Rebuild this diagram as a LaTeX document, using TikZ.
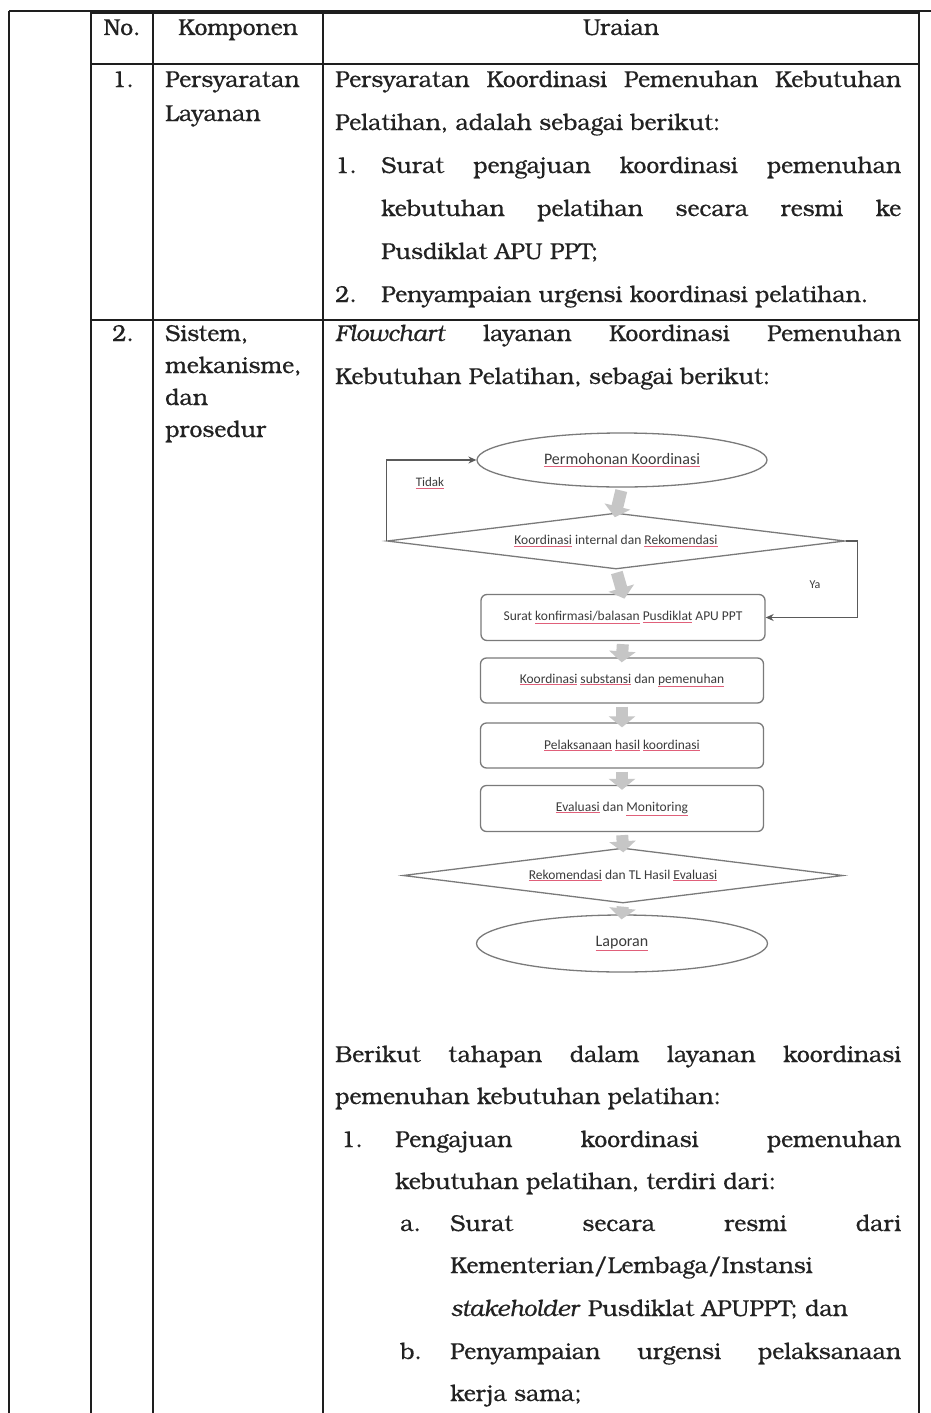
\documentclass[tikz,border=0pt]{standalone}
\usepackage{fontspec}
\setmainfont{TeX Gyre Bonum}[FakeBold=0.5]
\newfontfamily\fcfont{Carlito}
\usetikzlibrary{shapes.geometric,arrows.meta}

\definecolor{ink}{HTML}{222222}
\definecolor{rulecol}{HTML}{1E1E1E}
\definecolor{fcline}{HTML}{7A7A7A}
\definecolor{fcarrow}{HTML}{5A5A5A}
\definecolor{fctext}{HTML}{3C3C3C}
\definecolor{blk}{HTML}{C6C6C6}
\definecolor{spell}{HTML}{E0607A}

% word marked with a thin red underline
\newcommand\sq[1]{{\color{spell}\underline{{\color{fctext}#1}}}}
% justified line of a given width (in pt)
\newcommand\jl[2]{\makebox[#1pt][s]{#2}}

\tikzset{
  rule/.style={draw=rulecol, line width=2.2pt},
  txt/.style={anchor=base west, inner sep=0pt, text=ink,
              font=\fontsize{23}{27}\selectfont},
  hdr/.style={txt, anchor=base},
  fcshape/.style={draw=fcline, line width=1.3pt, fill=white, inner sep=0pt,
                  text=fctext, font=\fcfont\fontsize{13.5}{15}\selectfont},
  fcell/.style={fcshape, ellipse, font=\fcfont\fontsize{16}{18}\selectfont},
  fcbox/.style={fcshape, rectangle, rounded corners=6pt},
  fcdia/.style={fcshape, diamond, aspect=8},
  fclabel/.style={inner sep=0pt, text=fctext, font=\fcfont\fontsize{13}{15}\selectfont},
  flow/.style={draw=fcarrow, line width=1.2pt, -{Stealth[length=8pt,width=7pt]}},
  blockarr/.style={draw=blk, line width=12pt, -{Triangle[width=26pt,length=11pt]},
                   shorten <=3pt, shorten >=-5pt}
}

\begin{document}
\begin{tikzpicture}[x=1pt,y=-1pt]
\useasboundingbox (0,0) rectangle (931,1413);
\fill[white] (0,0) rectangle (931,1413);

% ---- table rules ----
\draw[rule, line width=1.6pt] (9,11) -- (931,11);
\draw[rule, line width=3.6pt] (91,12) -- (919,12);
\draw[rule] (9,11) -- (9,1413);
\draw[rule] (91,11) -- (91,1413);
\draw[rule] (153,11) -- (153,1413);
\draw[rule] (323,11) -- (323,1413);
\draw[rule] (919,11) -- (919,1413);
\draw[rule] (91,64) -- (919,64);
\draw[rule] (91,320) -- (919,320);

% ---- header ----
\node[hdr] (hno)   at (122,35) {No.};
\node[hdr] (hkomp) at (238,35) {Komponen};
\node[hdr] (hur)   at (621,35) {Uraian};

% ---- row 1 ----
\node[txt] (no1) at (112,87) {1.};
\node[txt] (k1a) at (165,87) {Persyaratan};
\node[txt] (k1b) at (165,121) {Layanan};

\node[txt] (u11) at (335,87)  {\jl{566}{Persyaratan Koordinasi Pemenuhan Kebutuhan}};
\node[txt] (u12) at (335,130) {Pelatihan, adalah sebagai berikut:};
\node[txt] (u13n) at (335,173) {1.};
\node[txt] (u13) at (381,173) {\jl{520}{Surat pengajuan koordinasi pemenuhan}};
\node[txt] (u14) at (381,216) {\jl{520}{kebutuhan pelatihan secara resmi ke}};
\node[txt] (u15) at (381,259) {Pusdiklat APU PPT;};
\node[txt] (u16n) at (335,302) {2.};
\node[txt] (u16) at (381,302) {Penyampaian urgensi koordinasi pelatihan.};

% ---- row 2 ----
\node[txt] (no2) at (112,341) {2.};
\node[txt] (k2a) at (165,341) {Sistem,};
\node[txt] (k2b) at (165,373) {mekanisme,};
\node[txt] (k2c) at (165,405) {dan};
\node[txt] (k2d) at (165,437) {prosedur};

\node[txt] (u21) at (335,341) {\jl{566}{\textit{Flowchart} layanan Koordinasi Pemenuhan}};
\node[txt] (u22) at (335,384) {Kebutuhan Pelatihan, sebagai berikut:};

\node[txt] (v1)  at (335,1062) {\jl{566}{Berikut tahapan dalam layanan koordinasi}};
\node[txt] (v2)  at (335,1104) {pemenuhan kebutuhan pelatihan:};
\node[txt] (v3n) at (341,1147) {1.};
\node[txt] (v3)  at (395,1147) {\jl{506}{Pengajuan koordinasi pemenuhan}};
\node[txt] (v4)  at (395,1189) {kebutuhan pelatihan, terdiri dari:};
\node[txt] (v5n) at (400,1231) {a.};
\node[txt] (v5)  at (450,1231) {\jl{451}{Surat secara resmi dari}};
\node[txt] (v6)  at (450,1273) {Kementerian/Lembaga/Instansi};
\node[txt] (v7)  at (450,1316) {\textit{stakeholder} Pusdiklat APUPPT; dan};
\node[txt] (v8n) at (400,1359) {b.};
\node[txt] (v8)  at (450,1359) {\jl{451}{Penyampaian urgensi pelaksanaan}};
\node[txt] (v9)  at (450,1401) {kerja sama;};

% ---- flowchart ----
\node[fcell, minimum width=290pt, minimum height=54pt] (e1) at (622,460)
  {\sq{Permohonan Koordinasi}};
\node[fcdia, minimum width=458pt, minimum height=56pt] (d1) at (616,541)
  {\sq{Koordinasi} internal dan \sq{Rekomendasi}};
\node[fcbox, minimum width=284pt, minimum height=46pt] (b1) at (623,617.5)
  {Surat \sq{konfirmasi/balasan} \sq{Pusdiklat} APU PPT};
\node[fcbox, minimum width=283pt, minimum height=45pt] (b2) at (622,680.5)
  {\sq{Koordinasi} \sq{substansi} dan \sq{pemenuhan}};
\node[fcbox, minimum width=283pt, minimum height=45pt] (b3) at (622,745.5)
  {\sq{Pelaksanaan} \sq{hasil} \sq{koordinasi}};
\node[fcbox, minimum width=283pt, minimum height=46pt] (b4) at (622,808.5)
  {\sq{Evaluasi} dan \sq{Monitoring}};
\node[fcdia, minimum width=440pt, minimum height=55pt] (d2) at (623,875.5)
  {\sq{Rekomendasi} dan TL Hasil \sq{Evaluasi}};
\node[fcell, minimum width=291pt, minimum height=57pt] (e2) at (622,943.5)
  {\sq{Laporan}};

\node[fclabel] (tidak) at (430,483) {\sq{Tidak}};
\node[fclabel, font=\fcfont\fontsize{12}{14}\selectfont] (ya) at (815,585) {Ya};

% decision branches
\draw[flow] (d1.west) |- (e1.west);
\draw[flow] (d1.east) -- ++(12,0) |- (b1.east);

% block arrows between the steps
\draw[blockarr] (e1.south) -- (d1.north);
\draw[blockarr] (d1.south) -- (b1.north);
\draw[blockarr] (b1.south) -- (b2.north);
\draw[blockarr] (b2.south) -- (b3.north);
\draw[blockarr] (b3.south) -- (b4.north);
\draw[blockarr] (b4.south) -- (d2.north);
\draw[blockarr] (d2.south) -- (e2.north);
\end{tikzpicture}
\end{document}
